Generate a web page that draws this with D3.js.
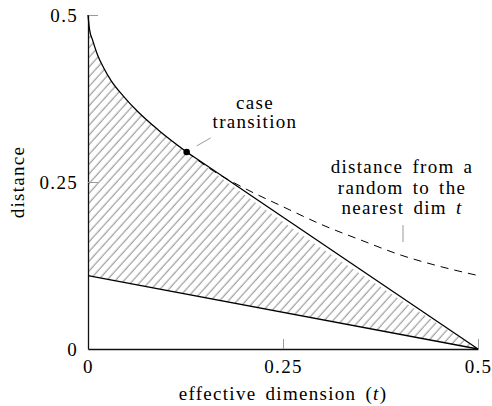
<!DOCTYPE html>
<html>
<head>
<meta charset="utf-8">
<script src="https://d3js.org/d3.v7.min.js"></script>
<style>
  body { margin: 0; background: #fff; }
  text { font-family: "Liberation Serif", "DejaVu Serif", serif; fill: #000; }
</style>
</head>
<body>
<div id="chart"></div>
<script>
var tickValues = [0, 0.25, 0.5];
var tickLabels = ["0", "0.25", "0.5"];

// upper bound, solid part (sqrt-like drop from 0.5)
var curveT = [0, 0.002, 0.006, 0.012, 0.02, 0.03, 0.045, 0.065, 0.09, 0.1265];
var curveY = [0.5, 0.478, 0.462, 0.441, 0.421, 0.401, 0.379, 0.354, 0.328, 0.295];

// same curve continued, dashed
var dashT = [0.1265, 0.16, 0.2, 0.25, 0.3, 0.35, 0.4, 0.45, 0.5];
var dashY = [0.295, 0.267, 0.241, 0.213, 0.186, 0.163, 0.141, 0.124, 0.11];

// straight part after the transition
var lineT = [0.1265, 0.5];
var lineY = [0.295, 0];

// lower bound
var lowT = [0, 0.5];
var lowY = [0.11, 0];

var transition = [0.1265, 0.295];

var margin = {top: 15, left: 88};
var width = 390, height = 334;
var font = "'Liberation Serif', 'DejaVu Serif', serif";

var svg = d3.select("#chart").append("svg")
    .attr("width", 492)
    .attr("height", 406);

var defs = svg.append("defs");
defs.append("pattern")
    .attr("id", "hatch")
    .attr("patternUnits", "userSpaceOnUse")
    .attr("width", 6.5)
    .attr("height", 6.5)
    .attr("patternTransform", "rotate(-48)")
  .append("line")
    .attr("x1", 0).attr("y1", 3)
    .attr("x2", 6.5).attr("y2", 3)
    .attr("stroke", "#555")
    .attr("stroke-width", 0.7);

var g = svg.append("g")
    .attr("transform", "translate(" + margin.left + "," + margin.top + ")");

var x = d3.scaleLinear().domain([0, 0.5]).range([0, width]);
var y = d3.scaleLinear().domain([0, 0.5]).range([height, 0]);

function pts(ts, ys) {
  return ts.map(function(t, i) { return [t, ys[i]]; });
}

var line = d3.line()
    .x(function(d) { return x(d[0]); })
    .y(function(d) { return y(d[1]); });
var smooth = d3.line()
    .x(function(d) { return x(d[0]); })
    .y(function(d) { return y(d[1]); })
    .curve(d3.curveMonotoneX);

// hatched region: upper boundary then back along the lower line
var upper = pts(curveT, curveY).concat(pts(lineT, lineY).slice(1));
var area = d3.area()
    .x(function(d) { return x(d[0]); })
    .y0(function(d) { return y(d[2]); })
    .y1(function(d) { return y(d[1]); })
    .curve(d3.curveMonotoneX);
var lowScale = d3.scaleLinear().domain(lowT).range(lowY);
var areaPts = upper.map(function(d) { return [d[0], d[1], lowScale(d[0])]; });

g.append("path")
    .attr("d", area(areaPts))
    .attr("fill", "url(#hatch)")
    .attr("stroke", "none");

// axes
var xAxis = d3.axisBottom(x)
    .tickValues(tickValues)
    .tickFormat(function(d, i) { return tickLabels[i]; })
    .tickSizeInner(-10)
    .tickSizeOuter(0)
    .tickPadding(11);
var yAxis = d3.axisLeft(y)
    .tickValues(tickValues)
    .tickFormat(function(d, i) { return tickLabels[i]; })
    .tickSizeInner(-10)
    .tickSizeOuter(0)
    .tickPadding(10);

var gx = g.append("g").attr("transform", "translate(0," + height + ")").call(xAxis);
var gy = g.append("g").call(yAxis);

[gx, gy].forEach(function(ax) {
  ax.attr("font-family", null).attr("font-size", null);
  ax.select(".domain").attr("stroke", "#111").attr("stroke-width", 1.3);
  ax.selectAll(".tick line").attr("stroke", "#999").attr("stroke-width", 1);
  ax.selectAll(".tick text")
    .style("font-family", font)
    .style("font-size", "19px")
    .style("letter-spacing", "1.3px")
    .attr("fill", "#000");
});
gx.selectAll(".tick").filter(function(d) { return d === 0; }).select("line").remove();
gy.selectAll(".tick").filter(function(d) { return d === 0; }).select("line").remove();

// curves
g.append("path")
    .attr("d", smooth(pts(dashT, dashY)))
    .attr("fill", "none")
    .attr("stroke", "#000")
    .attr("stroke-width", 1)
    .attr("stroke-dasharray", "8,6");

g.append("path")
    .attr("d", smooth(pts(curveT, curveY)))
    .attr("fill", "none")
    .attr("stroke", "#000")
    .attr("stroke-width", 1.3);

g.append("path")
    .attr("d", line(pts(lineT, lineY)))
    .attr("fill", "none")
    .attr("stroke", "#000")
    .attr("stroke-width", 1.3);

g.append("path")
    .attr("d", line(pts(lowT, lowY)))
    .attr("fill", "none")
    .attr("stroke", "#000")
    .attr("stroke-width", 1.3);

g.append("circle")
    .attr("cx", x(transition[0]))
    .attr("cy", y(transition[1]))
    .attr("r", 3.3)
    .attr("fill", "#000");

// annotations
var tx = x(transition[0]), ty = y(transition[1]);
g.append("line")
    .attr("x1", tx + 10).attr("y1", ty - 6)
    .attr("x2", tx + 24).attr("y2", ty - 14)
    .attr("stroke", "#999").attr("stroke-width", 1);

function label(sel) {
  return sel.style("font-family", font)
    .style("font-size", "19px")
    .style("letter-spacing", "1.3px")
    .style("word-spacing", "3px");
}

var ann1 = label(g.append("text").attr("text-anchor", "middle"));
ann1.append("tspan").attr("x", 167).attr("y", 94).text("case");
ann1.append("tspan").attr("x", 167).attr("y", 113).text("transition");

g.append("line")
    .attr("x1", 315).attr("y1", 210)
    .attr("x2", 315).attr("y2", 227)
    .attr("stroke", "#999").attr("stroke-width", 1);

var ann2 = label(g.append("text").attr("text-anchor", "middle"));
ann2.append("tspan").attr("x", 314).attr("y", 158).text("distance from a");
ann2.append("tspan").attr("x", 314).attr("y", 179).text("random to the");
var l3 = ann2.append("tspan").attr("x", 314).attr("y", 199);
l3.text("nearest dim ");
l3.append("tspan").style("font-style", "italic").text("t");

// axis titles
var xl = label(svg.append("text")
    .attr("x", margin.left + width / 2)
    .attr("y", 400)
    .attr("text-anchor", "middle"));
xl.append("tspan").text("effective dimension (");
xl.append("tspan").style("font-style", "italic").text("t");
xl.append("tspan").text(")");

label(svg.append("text")
    .attr("transform", "translate(24," + (margin.top + height / 2) + ") rotate(-90)")
    .attr("text-anchor", "middle"))
    .text("distance");
</script>
</body>
</html>
